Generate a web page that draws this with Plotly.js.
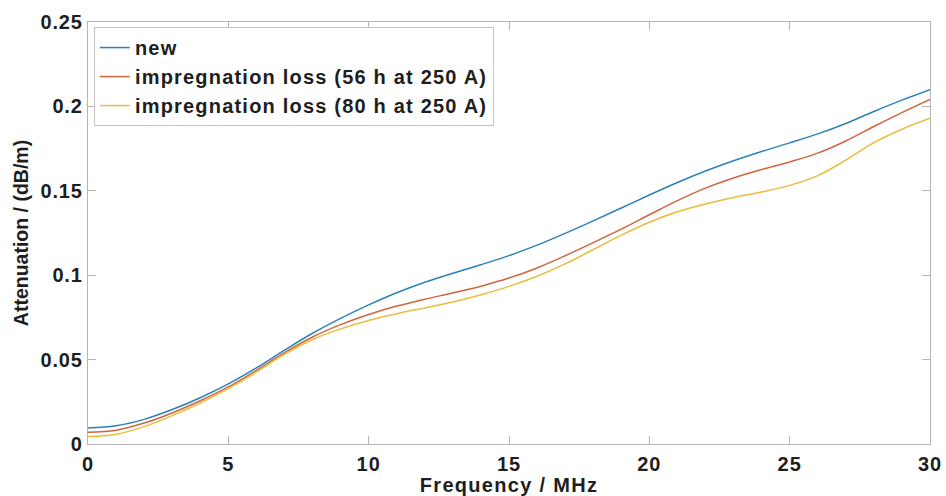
<!DOCTYPE html>
<html>
<head>
<meta charset="utf-8">
<script src="https://cdn.plot.ly/plotly-3.0.1.min.js"></script>
<style>
html,body{margin:0;padding:0;background:#fff;}
#chart{width:946px;height:496px;}
.legendtext{letter-spacing:1.2px;}
.xtick text{letter-spacing:1px;}
.ytick text{letter-spacing:0.8px;}
.xtitle{letter-spacing:1.3px;}
</style>
</head>
<body>
<div id="chart"></div>
<script>
var freq = [0,1,2,3,4,5,6,7,8,9,10,11,12,13,14,15,16,17,18,19,20,21,22,23,24,25,26,27,28,29,30];
var attNew = [0.0095,0.0108,0.0146,0.0204,0.0274,0.0356,0.0451,0.0556,0.0656,0.0744,0.0824,0.0896,0.0958,0.1012,0.1062,0.1116,0.1178,0.1248,0.1322,0.1398,0.1475,0.1549,0.1617,0.1678,0.1733,0.1784,0.1837,0.1899,0.1970,0.2037,0.2099];
var att56h = [0.0069,0.0082,0.0124,0.0184,0.0256,0.0338,0.0436,0.0541,0.0634,0.0707,0.0767,0.0817,0.0858,0.0895,0.0935,0.0983,0.1043,0.1115,0.1193,0.1273,0.1358,0.1442,0.1516,0.1576,0.1626,0.1671,0.1723,0.1795,0.1881,0.1963,0.2041];
var att80h = [0.0044,0.0058,0.0103,0.0168,0.0243,0.0328,0.0426,0.0531,0.0619,0.0682,0.0732,0.0772,0.0806,0.0841,0.0884,0.0934,0.0994,0.1067,0.1152,0.1237,0.1314,0.1376,0.1422,0.1460,0.1493,0.1532,0.1590,0.1682,0.1785,0.1865,0.1930];
var seriesNames = ["new","impregnation loss (56 h at 250 A)","impregnation loss (80 h at 250 A)"];
var xTicks = [0,5,10,15,20,25,30];
var yTicks = [0,0.05,0.1,0.15,0.2,0.25];
var yTickText = ["0","0.05","0.1","0.15","0.2","0.25"];

var colors = ["#2a82bb","#d0653f","#e8bd3c"];
var ys = [attNew, att56h, att80h];
var traces = ys.map(function(y,i){
  return {x: freq, y: y, type:'scatter', mode:'lines', name: seriesNames[i],
    line:{color: colors[i], width:1.5, shape:'spline', smoothing:1}};
});
var fontFam = '"Liberation Sans", Arial, sans-serif';
var txt = '#1e1e1e';
var axCol = '#b5b5b5';
var layout = {
  width:946, height:496,
  margin:{l:88, r:16, t:22, b:52},
  paper_bgcolor:'#fff', plot_bgcolor:'#fff',
  showlegend:true,
  legend:{x:0.007, y:0.988, xanchor:'left', yanchor:'top', bgcolor:'#fff',
    bordercolor:'#c4c4c4', borderwidth:1, font:{family:fontFam, size:20, color:txt, weight:'bold'},
    tracegroupgap:0, itemwidth:30},
  xaxis:{range:[0,30], tickvals:xTicks, ticktext:xTicks.map(String), ticks:'inside', ticklen:8, tickcolor:axCol,
    showline:true, linecolor:axCol, linewidth:1.4, mirror:'ticks', showgrid:false, zeroline:false,
    ticklabelstandoff:2,
    tickfont:{family:fontFam, size:20, color:txt, weight:'bold'},
    title:{text:'Frequency / MHz', standoff:1, font:{family:fontFam, size:20, color:txt, weight:'bold'}}},
  yaxis:{range:[0,0.25], tickvals:yTicks, ticktext:yTickText, ticks:'inside', ticklen:8, tickcolor:axCol,
    showline:true, linecolor:axCol, linewidth:1.4, mirror:'ticks', showgrid:false, zeroline:false,
    tickfont:{family:fontFam, size:20, color:txt, weight:'bold'},
    title:{text:'Attenuation / (dB/m)', standoff:6, font:{family:fontFam, size:19.5, color:txt, weight:'bold'}}}
};
Plotly.newPlot('chart', traces, layout, {displayModeBar:false, staticPlot:true});
</script>
</body>
</html>
